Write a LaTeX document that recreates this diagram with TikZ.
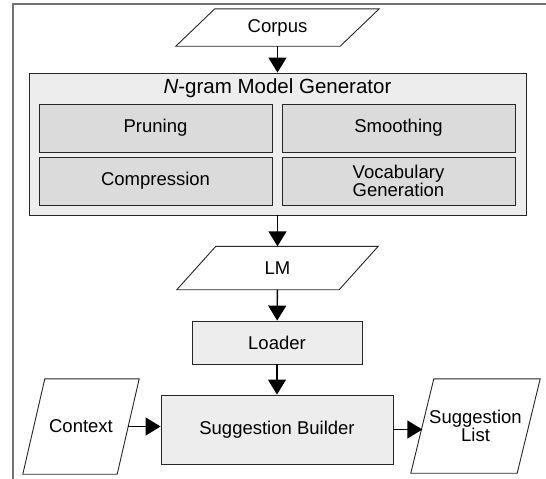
\documentclass[tikz,border=0pt]{standalone}
\usepackage{fontspec}
\setmainfont{Liberation Sans}
\usepackage{tikz}
\usetikzlibrary{arrows,arrows.meta}
\usetikzlibrary{positioning}
\usetikzlibrary{shapes}

% slanted outline round a data node: node name, half of the slant
\newcommand{\ioframe}[2]{\draw[ioline] ([xshift=#2]#1.north west) -- ([xshift=#2]#1.north east) -- ([xshift=-#2]#1.south east) -- ([xshift=-#2]#1.south west) -- cycle;}

\begin{document}
\begin{tikzpicture}[x=1pt,y=-1pt,
  every node/.style={font=\fontsize{18.5}{18.5}\selectfont},
  io/.style={rectangle,inner sep=0pt,align=center},
  ioline/.style={draw=black!85,line width=0.9pt,line join=miter},
  box/.style={rectangle,draw=black!85,line width=0.9pt,fill=black!7,inner sep=0pt},
  subbox/.style={box,fill=black!14,minimum width=233pt,minimum height=48pt,align=center},
  flow/.style={line width=1.4pt,-{Triangle[length=15pt,width=18pt]}}]
\useasboundingbox (0,0) rectangle (546,479);
\draw[black!55,line width=2pt] (13,479) -- (13,4) -- (546,4);
\node[io,minimum width=164pt,minimum height=37pt] (corpus) at (277.5,27.5) {Corpus};
\ioframe{corpus}{19.5}
\node[box,minimum width=497pt,minimum height=142pt] (gen) at (277.5,144) {};
\node[font=\fontsize{20.5}{22}\selectfont] (gentitle) at (277.5,88) {\textit{N}-gram Model Generator};
\node[subbox] (prune) at (155.5,128) {Pruning};
\node[subbox] (smooth) at (398.5,128) {Smoothing};
\node[subbox] (compress) at (155.5,181) {Compression};
\node[subbox] (vocab) at (398.5,181) {Vocabulary\\Generation};
\node[io,minimum width=162pt,minimum height=43pt] (lm) at (277.5,268) {LM};
\ioframe{lm}{19.5}
\node[box,minimum width=170pt,minimum height=43pt] (loader) at (277,342.5) {Loader};
\node[box,minimum width=232pt,minimum height=69pt] (builder) at (277,429.5) {Suggestion Builder};
\node[io,minimum width=94pt,minimum height=95pt] (context) at (81,426.5) {Context};
\ioframe{context}{11}
\node[io,minimum width=106pt,minimum height=94pt] (sugg) at (475.5,426) {Suggestion\\List};
\ioframe{sugg}{11.5}
\draw[flow] (corpus) to (gen);
\draw[flow] (gen) to (lm);
\draw[flow] (lm) to (loader);
\draw[flow] (loader) to (builder);
\draw[flow] (context) to (context -| builder.west);
\draw[flow] (builder) to (builder -| sugg.west);
\end{tikzpicture}
\end{document}
